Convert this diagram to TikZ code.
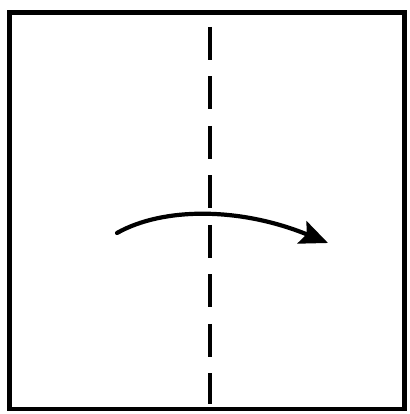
\documentclass[tikz,border=0pt]{standalone}
\usetikzlibrary{arrows.meta}
\begin{document}
\begin{tikzpicture}[x=1pt,y=1pt,
  frame/.style={draw=black, line width=4.5pt},
  foldline/.style={draw=black, line width=4.5pt, dash pattern=on 33pt off 16.5pt},
  turnarrow/.style={draw=black, line width=4.2pt, line cap=round, -{Stealth[length=28pt,width=24pt,inset=5pt]}}]
\useasboundingbox (0,0) rectangle (409,414);
\fill[white] (0,0) rectangle (409,414);
\draw[frame] (9.5,5) rectangle (404.5,401.5);
\coordinate (foldtop) at (210,387);
\coordinate (foldbot) at (210,10);
\draw[foldline] (foldtop) -- (foldbot);
\coordinate (astart) at (117,181);
\coordinate (actrlA) at (163,207);
\coordinate (actrlB) at (240,207);
\coordinate (aend) at (328,171);
\draw[turnarrow] (astart) .. controls (actrlA) and (actrlB) .. (aend);
\end{tikzpicture}
\end{document}
